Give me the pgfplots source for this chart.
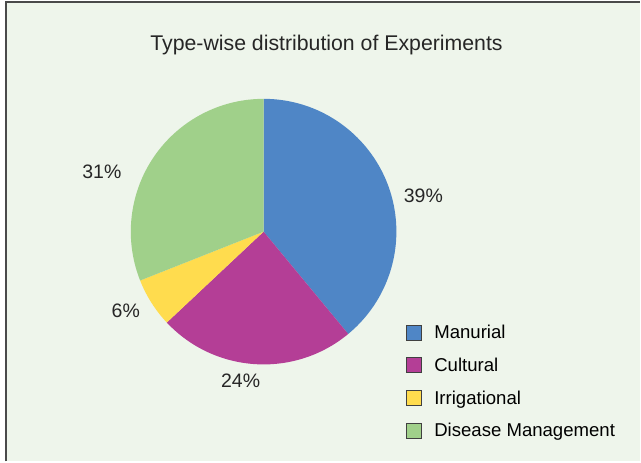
\documentclass[border=0pt]{standalone}
\usepackage{pgfplots}
\pgfplotsset{compat=1.18}
\usepackage{fontspec}
\setmainfont{Liberation Sans}
\definecolor{bg}{HTML}{EEF5EB}
\definecolor{manu}{HTML}{4F86C6}
\definecolor{cult}{HTML}{B43E96}
\definecolor{irri}{HTML}{FFDC4E}
\definecolor{dis}{HTML}{A0D08A}
\definecolor{frame}{HTML}{4A4A4A}

% shares in per cent
\def\vManu{39}
\def\vCult{24}
\def\vIrri{6}
\def\vDis{31}

\begin{document}
\begin{tikzpicture}
\pgfmathsetmacro\aA{90}
\pgfmathsetmacro\aB{\aA-3.6*\vManu}
\pgfmathsetmacro\aC{\aB-3.6*\vCult}
\pgfmathsetmacro\aD{\aC-3.6*\vIrri}
\pgfmathsetmacro\aE{\aD-3.6*\vDis}
\begin{axis}[
 x=1pt, y=1pt,
 xmin=0, xmax=641, ymin=0, ymax=462,
 hide axis,
 clip=false,
 legend image code/.code={\draw[#1,draw=black!75,line width=0.8pt] (0pt,-7.5pt) rectangle (15pt,7.5pt);},
 legend style={at={(axis cs:403,139)}, anchor=north west, draw=none, fill=none,
   font=\fontsize{18.6}{22}\selectfont, row sep=17pt,
   nodes={inner sep=0pt, anchor=west}, column sep=13pt},
 legend cell align={left},
]
\fill[white] (axis cs:0,0) rectangle (axis cs:641,462);
\fill[bg] (axis cs:6,0) rectangle (axis cs:641,459.5);
\draw[frame,line width=2pt] (axis cs:6,0) -- (axis cs:6,459.5) -- (axis cs:641,459.5);

\addlegendimage{fill=manu}\addlegendentry{Manurial}
\addlegendimage{fill=cult}\addlegendentry{Cultural}
\addlegendimage{fill=irri}\addlegendentry{Irrigational}
\addlegendimage{fill=dis}\addlegendentry{Disease Management}

\fill[manu] (axis cs:264,230) -- ++(\aA:133pt) arc[start angle=\aA, end angle=\aB, radius=133pt] -- cycle;
\fill[cult] (axis cs:264,230) -- ++(\aB:133pt) arc[start angle=\aB, end angle=\aC, radius=133pt] -- cycle;
\fill[irri] (axis cs:264,230) -- ++(\aC:133pt) arc[start angle=\aC, end angle=\aD, radius=133pt] -- cycle;
\fill[dis] (axis cs:264,230) -- ++(\aD:133pt) arc[start angle=\aD, end angle=\aE, radius=133pt] -- cycle;

\node[font=\fontsize{19.5}{22}\selectfont, text=black!85] at (axis cs:424,266) {\vManu\%};
\node[font=\fontsize{19.5}{22}\selectfont, text=black!85] at (axis cs:241,81) {\vCult\%};
\node[font=\fontsize{19.5}{22}\selectfont, text=black!85] at (axis cs:126,151) {\vIrri\%};
\node[font=\fontsize{19.5}{22}\selectfont, text=black!85] at (axis cs:102,290) {\vDis\%};

\node[font=\fontsize{21.3}{24}\selectfont, text=black!85] at (axis cs:327,417) {Type-wise distribution of Experiments};
\end{axis}
\end{tikzpicture}
\end{document}
